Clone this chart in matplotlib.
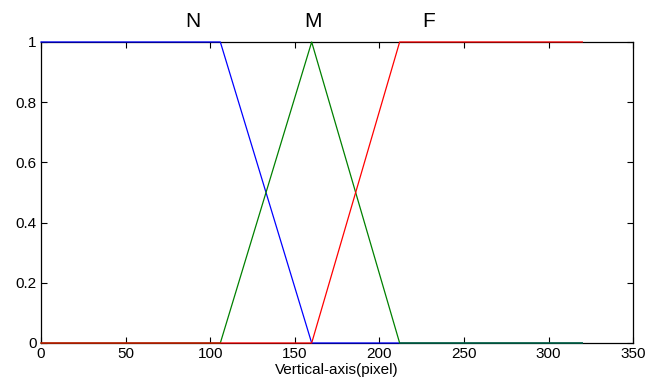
import matplotlib
matplotlib.use("Agg")
import matplotlib.pyplot as plt

plt.rcParams['font.family'] = ['Liberation Sans', 'DejaVu Sans']

# Membership functions (breakpoints)
near_x = [0, 106, 160, 320]
near_y = [1, 1, 0, 0]
mid_x = [0, 106, 160, 212, 320]
mid_y = [0, 0, 1, 0, 0]
far_x = [0, 160, 212, 320]
far_y = [0, 0, 1, 1]
labels = ['N', 'M', 'F']
label_x = [90, 161, 229]

fig = plt.figure(figsize=(6.46, 3.87), dpi=100)
ax = fig.add_axes([0.0635, 0.1137, 0.9165, 0.7778])
for xs, ys, c in [(near_x, near_y, '#0000ff'), (mid_x, mid_y, '#008000'), (far_x, far_y, '#ff0000')]:
    ax.plot(xs, ys, color=c, lw=0.9, clip_on=False, zorder=3)
ax.set_xlim(0, 350)
ax.set_ylim(0, 1)
ax.set_xticks(range(0, 351, 50))
ax.set_yticks([0, 0.2, 0.4, 0.6, 0.8, 1])
ax.set_yticklabels(['0', '0.2', '0.4', '0.6', '0.8', '1'])
ax.tick_params(direction='in', top=True, right=True, labelsize=11, length=4, width=0.8, pad=3)
for s in ax.spines.values():
    s.set_linewidth(0.9)
ax.set_xlabel('Vertical-axis(pixel)', fontsize=11, labelpad=1)
for t, x in zip(labels, label_x):
    ax.text(x, 1.035, t, fontsize=15, ha='center', va='bottom', clip_on=False)
fig.savefig('out.png', dpi=100)
